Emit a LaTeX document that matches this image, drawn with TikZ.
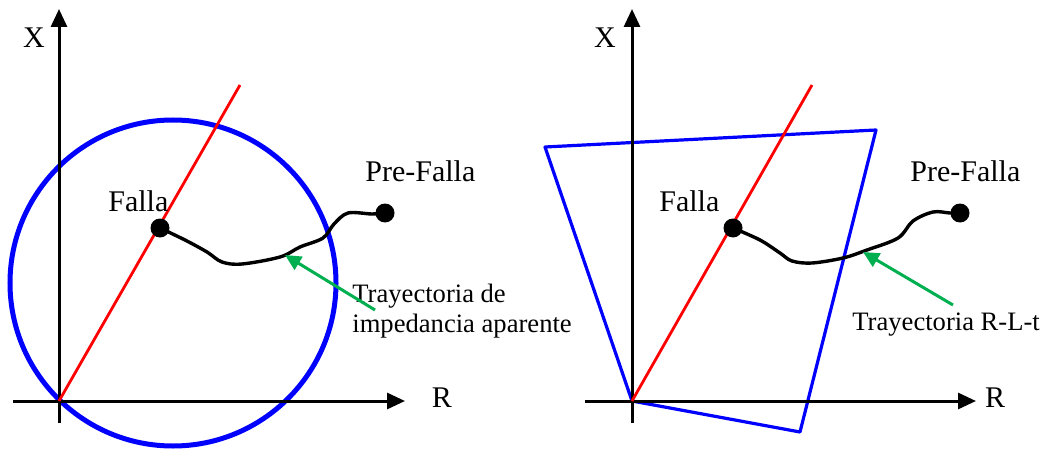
\documentclass[tikz,border=0pt]{standalone}
\usepackage{fontspec}
\setmainfont{Liberation Serif}
\usepackage{xcolor}
\usepackage{tikz}
\usetikzlibrary{arrows.meta, positioning}

\definecolor{arrowgreen}{RGB}{0,176,80}

\begin{document}
\begin{tikzpicture}[x=0.5pt, y=-0.5pt, >=Stealth,
    axis/.style={line width=1.5pt, -{Triangle[length=9pt, width=8pt]}},
    ray/.style={line width=1.4pt, red},
    traj/.style={line width=1.7pt, black},
    pointer/.style={line width=1.5pt, arrowgreen, -{Triangle[length=8pt, width=7.5pt]}},
    dot/.style={circle, fill=black, inner sep=0pt, minimum size=9.5pt},
    lbl/.style={font=\fontsize{15}{17}\selectfont, inner sep=0pt},
    note/.style={font=\fontsize{13.3}{15}\selectfont, inner sep=0pt, align=left}]

\useasboundingbox (0, 0) rectangle (1044, 449);

% ---------------- Left: mho characteristic ----------------
\coordinate (oL) at (59, 401);

% Circle
\draw[blue, line width=2.5pt] (173, 283) circle [radius=81.5pt];

% Axes
\draw[axis] (59, 423) -- (59, 9) coordinate (yL);
\draw[axis] (13, 401) -- (405, 401) coordinate (xL);
\node[lbl] (labXL) at (34, 38) {X};
\node[lbl] (labRL) at (442, 398) {R};

% Line impedance
\draw[ray] (oL) -- (240, 85);

% Points
\node[dot] (fallaL) at (160, 228) {};
\node[dot] (preL) at (385, 213) {};
\node[lbl, anchor=base west] (tfallaL) at (108, 212) {Falla};
\node[lbl, anchor=base west] (tpreL) at (365, 182) {Pre-Falla};

% Trajectory
\draw[traj] plot[smooth, tension=0.55] coordinates {(fallaL.center) (185, 240) (207, 252) (222, 262) (242, 264)
    (280, 257) (300, 247) (323, 238) (334, 224) (348, 213) (372, 214) (preL.center)};

% Annotation
\node[note, anchor=base west] (noteL) at (352, 332) {Trayectoria de\\impedancia aparente};
\coordinate (tailL) at (375, 310);
\coordinate (tipL) at (285, 255);
\draw[pointer] (tailL) -- (tipL);

% ---------------- Right: quadrilateral characteristic ----------------
\coordinate (oR) at (632, 401);

% Quadrilateral
\draw[blue, line width=1.6pt, line join=round] (oR) -- (545, 147) -- (876, 130) -- (800, 432) -- cycle;

% Axes
\draw[axis] (632, 423) -- (632, 9) coordinate (yR);
\draw[axis] (585, 401) -- (976, 401) coordinate (xR);
\node[lbl] (labXR) at (605, 38) {X};
\node[lbl] (labRR) at (995, 398) {R};

% Line impedance
\draw[ray] (oR) -- (812, 85);

% Points
\node[dot] (fallaR) at (733, 228) {};
\node[dot] (preR) at (960, 213) {};
\node[lbl, anchor=base west] (tfallaR) at (659, 212) {Falla};
\node[lbl, anchor=base west] (tpreR) at (910, 182) {Pre-Falla};

% Trajectory
\draw[traj] plot[smooth, tension=0.55] coordinates {(fallaR.center) (760, 240) (780, 253) (792, 261) (812, 263)
    (843, 258) (867, 250) (898, 238) (913, 221) (933, 212) (950, 213) (preR.center)};

% Annotation
\node[note, anchor=base west] (noteR) at (852, 330) {Trayectoria R-L-t};
\coordinate (tailR) at (953, 305);
\coordinate (tipR) at (863, 252);
\draw[pointer] (tailR) -- (tipR);

\end{tikzpicture}
\end{document}
